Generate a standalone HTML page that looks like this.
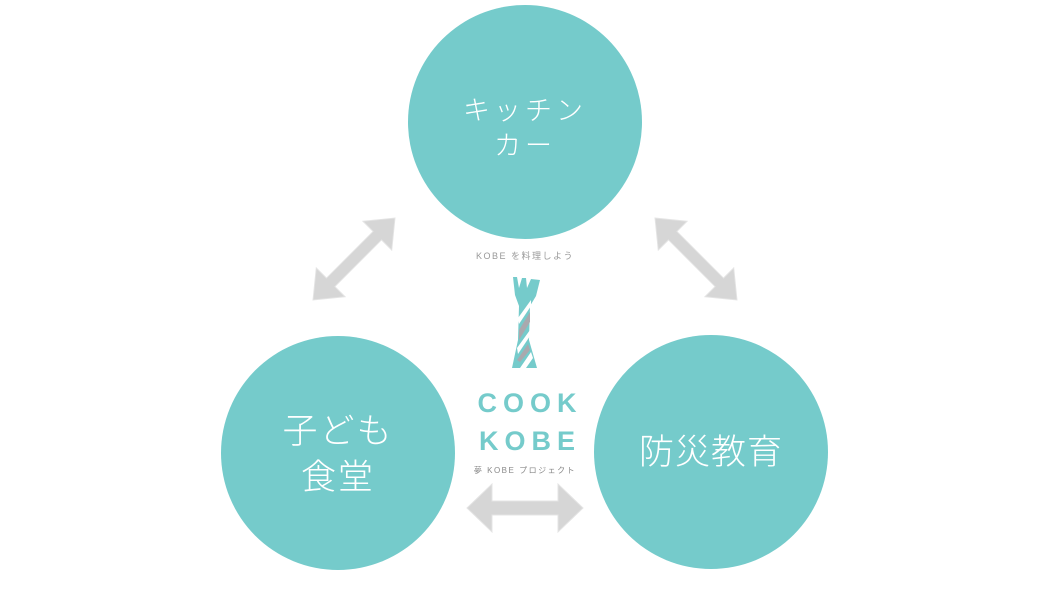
<!DOCTYPE html>
<html><head><meta charset="utf-8"><style>
body{margin:0;background:#fff;}
.w{position:relative;width:1050px;height:591px;overflow:hidden;font-family:"Liberation Sans","Noto Sans CJK JP",sans-serif;}
.t{position:absolute;color:#fff;font-weight:300;text-align:center;white-space:nowrap;}
</style></head><body><div class="w">
<svg width="1050" height="591" style="position:absolute;left:0;top:0">
<circle cx="525" cy="122" r="117" fill="#75cbcb"/>
<circle cx="338" cy="453" r="117" fill="#75cbcb"/>
<circle cx="711" cy="452" r="117" fill="#75cbcb"/>
<defs><path id="ar" d="M-58,0 L-33,-24 L-33,-7 L33,-7 L33,-24 L58,0 L33,24 L33,7 L-33,7 L-33,24 Z"/></defs>
<g fill="#d6d6d6" stroke="#e4e4e4" stroke-width="1">
<use href="#ar" transform="translate(525,508)"/>
<use href="#ar" transform="translate(354,259) rotate(-45) scale(1,0.85)"/>
<use href="#ar" transform="translate(696,259) rotate(45) scale(1,0.85)"/>
</g>
<path fill="#75cbcb" d="M513,277 L517,277 L519,288 L522,278 L526,278 L527,288 L531,279 L540,280 L536,296 L530,306 L529,340 L537,368 L512,368 L518,340 L519,306 L515,295 Z"/>
<g fill="#a9a9ae">
<path d="M530,312 L519,330 L519,340 L530,322 Z"/>
<path d="M528,344 L517,360 L520,362 L530,350 Z"/>
</g>
<g fill="#fff">
<path d="M531,300 L518,318 L519,324 L531,306 Z"/>
<path d="M530,330 L517,348 L518,354 L530,336 Z"/>
<path d="M531,352 L520,368 L526,368 L533,358 Z"/>
</g>
</svg>
<div class="t" style="left:425px;top:94px;width:200px;font-size:27px;line-height:35px;letter-spacing:4px;">キッチン<br>カー</div>
<div class="t" style="left:238px;top:409px;width:200px;font-size:35px;line-height:46px;letter-spacing:2px;">子ども<br>食堂</div>
<div class="t" style="left:611px;top:430px;width:200px;font-size:35px;line-height:46px;letter-spacing:1px;">防災教育</div>
<div style="position:absolute;left:470px;top:249px;width:110px;text-align:center;font-size:9px;color:#999;letter-spacing:1.5px;">KOBE を料理しよう</div>
<div style="position:absolute;left:472px;top:384px;width:116px;text-align:center;font-size:27px;font-weight:bold;color:#75cbcb;letter-spacing:6px;line-height:38px;">COOK<br>KOBE</div>
<div style="position:absolute;left:470px;top:465px;width:110px;text-align:center;font-size:8px;color:#888;letter-spacing:1.5px;">夢 KOBE プロジェクト</div>
</div></body></html>
